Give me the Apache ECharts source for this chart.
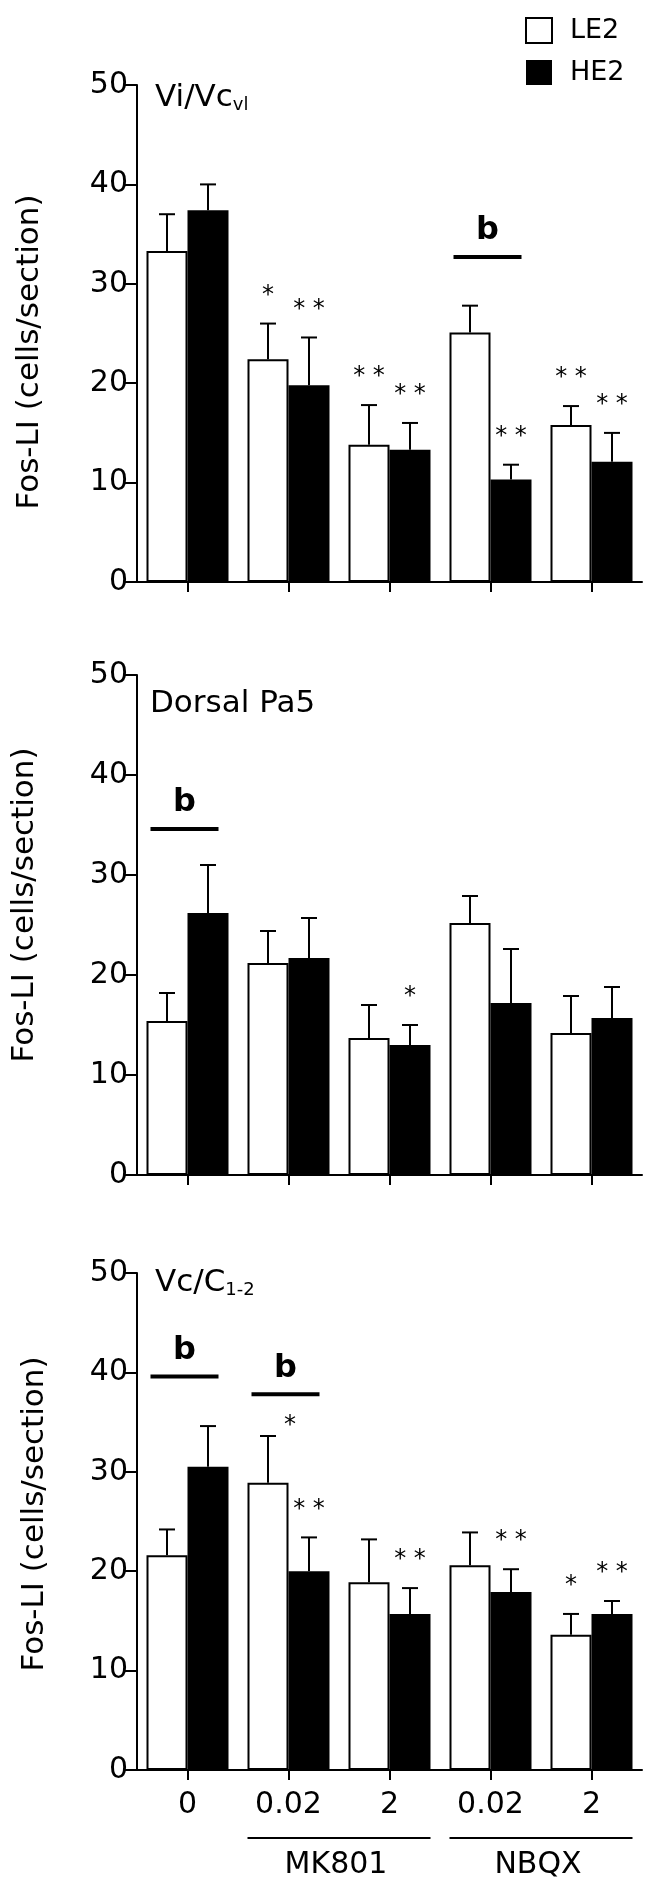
<!DOCTYPE html>
<html><head><meta charset="utf-8">
<script src="https://cdn.jsdelivr.net/npm/echarts@6/dist/echarts.min.js"></script>
<style>html,body{margin:0;padding:0;background:#fff}#c{width:647px;height:1898px}</style>
</head><body><div id="c"></div>
<script>
// ---------- data ----------
const categories = ['0', '0.02', '2', '0.02', '2'];
const seriesNames = ['LE2', 'HE2'];
const groupLabels = ['MK801', 'NBQX'];
const groupRanges = [[1, 2], [3, 4]];
const yMin = 0, yMax = 50, yStep = 10;

// Panel 1: Vi/Vc_vl
const p1LE = [33.3, 22.4, 13.8, 25.1, 15.8];
const p1LEerr = [37.0, 26.0, 17.8, 27.8, 17.7];
const p1HE = [37.4, 19.8, 13.3, 10.3, 12.1];
const p1HEerr = [40.0, 24.6, 16.0, 11.8, 15.0];
const p1LEstars = ['', '*', '**', '', '**'];
const p1HEstars = ['', '**', '**', '**', '**'];
const p1B = [[3, 32.7]];

// Panel 2: Dorsal Pa5
const p2LE = [15.4, 21.2, 13.7, 25.2, 14.2];
const p2LEerr = [18.2, 24.4, 17.0, 27.9, 17.9];
const p2HE = [26.2, 21.7, 13.0, 17.2, 15.7];
const p2HEerr = [31.0, 25.7, 15.0, 22.6, 18.8];
const p2LEstars = ['', '', '', '', ''];
const p2HEstars = ['', '', '*', '', ''];
const p2B = [[0, 34.6]];

// Panel 3: Vc/C1-2
const p3LE = [21.6, 28.9, 18.9, 20.6, 13.6];
const p3LEerr = [24.2, 33.6, 23.2, 23.9, 15.7];
const p3HE = [30.5, 20.0, 15.7, 17.9, 15.7];
const p3HEerr = [34.6, 23.4, 18.3, 20.2, 17.0];
const p3LEstars = ['', '', '', '', '*'];
const p3LEsideStars = ['', '*', '', '', ''];
const p3HEstars = ['', '**', '**', '**', '**'];
const p3B = [[0, 39.6], [1, 37.8]];

// ---------- layout / style ----------
const F = "'DejaVu Sans', sans-serif";
const BW = 41;
const grids = [
  {left: 137, right: 5, top: 85, height: 497},
  {left: 137, right: 5, top: 675, height: 500},
  {left: 137, right: 5, top: 1273, height: 497}
];
const panels = [
  {le: p1LE, leErr: p1LEerr, he: p1HE, heErr: p1HEerr, leS: p1LEstars, heS: p1HEstars, side: null, b: p1B},
  {le: p2LE, leErr: p2LEerr, he: p2HE, heErr: p2HEerr, leS: p2LEstars, heS: p2HEstars, side: null, b: p2B},
  {le: p3LE, leErr: p3LEerr, he: p3HE, heErr: p3HEerr, leS: p3LEstars, heS: p3HEstars, side: p3LEsideStars, b: p3B}
];

function starText(s) { return s.split('').join(' '); }

function errSeries(gi, vals, errs, stars, side, shift) {
  return {
    type: 'custom', xAxisIndex: gi, yAxisIndex: gi, clip: false, z: 5,
    data: vals.map((v, i) => [i, v, errs[i]]),
    renderItem: function (params, api) {
      const i = api.value(0);
      const pTop = api.coord([i, api.value(1)]);
      const pCap = api.coord([i, api.value(2)]);
      const x = pTop[0] + shift;
      const ch = [
        {type: 'line', shape: {x1: x, y1: pTop[1], x2: x, y2: pCap[1]}, style: {stroke: '#000', lineWidth: 2}},
        {type: 'line', shape: {x1: x - 8, y1: pCap[1], x2: x + 8, y2: pCap[1]}, style: {stroke: '#000', lineWidth: 2}}
      ];
      const s = stars[params.dataIndex];
      if (s) ch.push({type: 'text', x: x, y: pCap[1] - 28, style: {text: starText(s), font: '24px ' + F, fill: '#000', align: 'center', verticalAlign: 'middle'}});
      const sd = side ? side[params.dataIndex] : '';
      if (sd) ch.push({type: 'text', x: x + 22, y: pCap[1] - 10, style: {text: starText(sd), font: '24px ' + F, fill: '#000', align: 'center', verticalAlign: 'middle'}});
      return {type: 'group', children: ch};
    }
  };
}

function bSeries(gi, bdata) {
  return {
    type: 'custom', xAxisIndex: gi, yAxisIndex: gi, clip: false, z: 6,
    data: bdata,
    renderItem: function (params, api) {
      const p = api.coord([api.value(0), api.value(1)]);
      const x = p[0] - 3;
      return {type: 'group', children: [
        {type: 'line', shape: {x1: x - 34, y1: p[1], x2: x + 34, y2: p[1]}, style: {stroke: '#000', lineWidth: 4}},
        {type: 'text', x: x, y: p[1] - 26, style: {text: 'b', font: 'bold 32px ' + F, fill: '#000', align: 'center', verticalAlign: 'middle'}}
      ]};
    }
  };
}

const xAxes = [], yAxes = [], series = [];
panels.forEach((p, gi) => {
  xAxes.push({
    type: 'category', gridIndex: gi, data: categories,
    axisLine: {lineStyle: {color: '#000', width: 2}},
    axisTick: {show: true, alignWithLabel: true, length: 10, interval: 0, lineStyle: {color: '#000', width: 2}},
    axisLabel: {show: gi === 2, interval: 0, fontSize: 30, fontFamily: F, color: '#000', margin: 20},
    splitLine: {show: false}
  });
  yAxes.push({
    type: 'value', gridIndex: gi, min: yMin, max: yMax, interval: yStep,
    axisLine: {show: true, lineStyle: {color: '#000', width: 2}},
    axisTick: {show: true, length: 13, lineStyle: {color: '#000', width: 2}},
    axisLabel: {fontSize: 30, fontFamily: F, color: '#000', margin: 9},
    splitLine: {show: false}
  });
  series.push({
    name: seriesNames[0], type: 'bar', xAxisIndex: gi, yAxisIndex: gi, data: p.le,
    barWidth: BW, barGap: '0%',
    itemStyle: {color: '#fff', borderColor: '#000', borderWidth: 2}
  });
  series.push({
    name: seriesNames[1], type: 'bar', xAxisIndex: gi, yAxisIndex: gi, data: p.he,
    barWidth: BW, barGap: '0%',
    itemStyle: {color: '#000', borderColor: '#000', borderWidth: 0}
  });
  series.push(errSeries(gi, p.le, p.leErr, p.leS, p.side, -BW / 2));
  series.push(errSeries(gi, p.he, p.heErr, p.heS, null, BW / 2));
  series.push(bSeries(gi, p.b));
});

// group brackets under bottom panel
series.push({
  type: 'custom', xAxisIndex: 2, yAxisIndex: 2, clip: false, z: 6,
  data: groupRanges.map(r => [r[0], 0, r[1]]),
  renderItem: function (params, api) {
    const p1 = api.coord([api.value(0), 0]);
    const p2 = api.coord([api.value(2), 0]);
    const x1 = p1[0] - BW, x2 = p2[0] + BW;
    return {type: 'group', children: [
      {type: 'line', shape: {x1: x1, y1: p1[1] + 68, x2: x2, y2: p1[1] + 68}, style: {stroke: '#000', lineWidth: 2}},
      {type: 'text', x: (x1 + x2) / 2 - 3, y: p1[1] + 95, style: {text: groupLabels[params.dataIndex], font: '30px ' + F, fill: '#000', align: 'center', verticalAlign: 'middle'}}
    ]};
  }
});

const titleRich = {
  m: {fontSize: 31, fontFamily: F, color: '#000', fontWeight: 'normal'},
  s: {fontSize: 18, fontFamily: F, color: '#000', fontWeight: 'normal', padding: [14, 0, 0, 0]}
};

const option = {
  backgroundColor: '#fff',
  animation: false,
  grid: grids,
  xAxis: xAxes,
  yAxis: yAxes,
  series: series,
  legend: {
    data: seriesNames, orient: 'vertical', left: 525, top: 17, padding: 0,
    itemWidth: 26, itemHeight: 25, itemGap: 15, icon: 'rect', selectedMode: false,
    textStyle: {fontSize: 27, fontFamily: F, color: '#000', padding: [0, 0, 0, 13], lineHeight: 25}
  },
  title: [
    {text: '{m|Vi/Vc}{s|vl}', left: 155, top: 82, padding: 0, textStyle: {fontWeight: 'normal', rich: titleRich}},
    {text: 'Dorsal Pa5', left: 150, top: 688, padding: 0, textStyle: {fontSize: 31, fontFamily: F, color: '#000', fontWeight: 'normal'}},
    {text: '{m|Vc/C}{s|1-2}', left: 155, top: 1267, padding: 0, textStyle: {fontWeight: 'normal', rich: titleRich}}
  ],
  graphic: [
    {type: 'text', x: 30, y: 352, rotation: Math.PI / 2, style: {text: 'Fos-LI (cells/section)', font: '31px ' + F, fill: '#000', align: 'center', verticalAlign: 'middle'}},
    {type: 'text', x: 25, y: 905, rotation: Math.PI / 2, style: {text: 'Fos-LI (cells/section)', font: '31px ' + F, fill: '#000', align: 'center', verticalAlign: 'middle'}},
    {type: 'text', x: 35, y: 1514, rotation: Math.PI / 2, style: {text: 'Fos-LI (cells/section)', font: '31px ' + F, fill: '#000', align: 'center', verticalAlign: 'middle'}},
    {type: 'line', shape: {x1: 124, y1: 582, x2: 138, y2: 582}, style: {stroke: '#000', lineWidth: 2}},
    {type: 'line', shape: {x1: 124, y1: 1175, x2: 138, y2: 1175}, style: {stroke: '#000', lineWidth: 2}},
    {type: 'line', shape: {x1: 124, y1: 1770, x2: 138, y2: 1770}, style: {stroke: '#000', lineWidth: 2}}
  ]
};
const chart = echarts.init(document.getElementById('c'), null, {renderer: 'canvas'});
chart.setOption(option);
</script></body></html>
